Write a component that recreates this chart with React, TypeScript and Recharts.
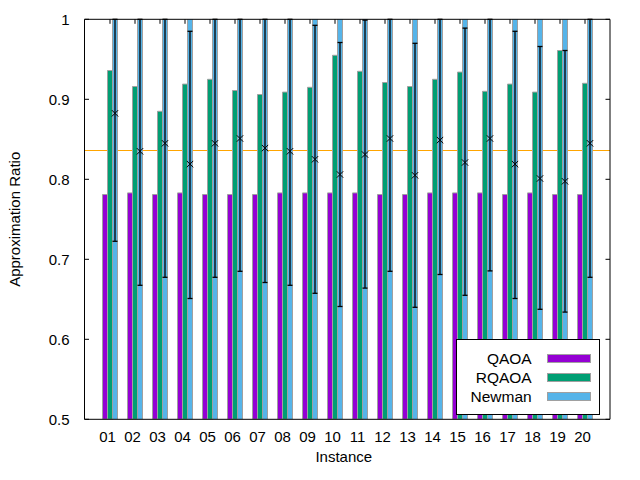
import React from 'react';
import {
  ComposedChart, Bar, XAxis, YAxis, ErrorBar, CartesianGrid, Legend, LabelList,
} from 'recharts';

const instances = ['01', '02', '03', '04', '05', '06', '07', '08', '09', '10',
  '11', '12', '13', '14', '15', '16', '17', '18', '19', '20'];

const seriesNames = ['QAOA', 'RQAOA', 'Newman'];

const qaoa = [0.781, 0.783, 0.781, 0.783, 0.781, 0.781, 0.781, 0.783, 0.783, 0.783,
  0.783, 0.781, 0.781, 0.783, 0.783, 0.783, 0.781, 0.783, 0.781, 0.781];
const rqaoa = [0.936, 0.916, 0.885, 0.919, 0.925, 0.911, 0.906, 0.909, 0.915, 0.955,
  0.935, 0.921, 0.916, 0.925, 0.934, 0.910, 0.919, 0.909, 0.961, 0.920];
const newman = [1, 1, 1, 1, 1, 1, 1, 1, 1, 1, 1, 1, 1, 1, 1, 1, 1, 1, 1, 1];

// mean and spread of the runs, drawn on the Newman bar
const runMean = [0.8825, 0.835, 0.845, 0.819, 0.845, 0.851, 0.839, 0.835, 0.825, 0.806,
  0.831, 0.851, 0.805, 0.849, 0.821, 0.851, 0.819, 0.801, 0.7975, 0.845];
const runLow = [0.7225, 0.6675, 0.6775, 0.651, 0.6775, 0.685, 0.671, 0.6675, 0.6575, 0.641,
  0.664, 0.685, 0.64, 0.681, 0.655, 0.6855, 0.651, 0.6375, 0.634, 0.6775];
const runHigh = [1, 1, 1, 0.985, 1, 1, 1, 1, 0.9925, 0.971,
  0.999, 1, 0.97, 1, 0.989, 1, 0.985, 0.966, 0.961, 1];

const threshold = 0.836;
const yTicks = [0.5, 0.6, 0.7, 0.8, 0.9, 1];

const data = instances.map((name, i) => ({
  name,
  qaoa: qaoa[i],
  rqaoa: rqaoa[i],
  mean: runMean[i],
  rest: newman[i] - runMean[i],
  err: [runMean[i] - runLow[i], runHigh[i] - runMean[i]],
}));

const FONT = '"Liberation Sans", Arial, sans-serif';
const BORDER = '#a0a0a0';
const PAD = { left: 13, right: 12.5 };

const EmptyTick = () => <g />;

const NewmanShape = (p: any) => {
  const { x, y, width, height, fill } = p;
  if (!height) return <g />;
  return (
    <g>
      <rect x={x} y={y} width={width} height={height} fill={fill} />
      <line x1={x} x2={x} y1={y} y2={y + height} stroke={BORDER} />
      <line x1={x + width} x2={x + width} y1={y} y2={y + height} stroke={BORDER} />
    </g>
  );
};

const Cross = (p: any) => {
  const vb = p.viewBox || p;
  const cx = vb.x + vb.width / 2;
  const cy = vb.y;
  const s = 3.2;
  return (
    <g stroke="#000" strokeWidth={1}>
      <line x1={cx - s} y1={cy - s} x2={cx + s} y2={cy + s} />
      <line x1={cx - s} y1={cy + s} x2={cx + s} y2={cy - s} />
    </g>
  );
};

const LegendBox = (props: any) => {
  const items = seriesNames
    .map((n) => (props.payload || []).find((e: any) => e.value === n))
    .filter(Boolean);
  return (
    <div style={{
      width: 144, height: 76, boxSizing: 'border-box', border: '1px solid #000',
      background: '#fff', position: 'relative', fontFamily: FONT, fontSize: 15.5, color: '#000',
    }}>
      {items.map((e: any, i: number) => (
        <div key={e.value} style={{ position: 'absolute', left: 0, top: 9 + 19 * i, height: 19, width: '100%' }}>
          <span style={{ position: 'absolute', right: 67, top: 0, lineHeight: '19px', whiteSpace: 'nowrap' }}>
            {e.value}
          </span>
          <span style={{
            position: 'absolute', left: 90, top: 5, width: 44, height: 9, boxSizing: 'border-box',
            background: e.color, border: `1px solid ${BORDER}`,
          }} />
        </div>
      ))}
    </div>
  );
};

const YLabel = ({ viewBox }: any) => (
  <text
    x={15} y={viewBox.y + viewBox.height / 2}
    transform={`rotate(-90, 15, ${viewBox.y + viewBox.height / 2})`}
    textAnchor="middle" dominantBaseline="central" fontSize={15} fill="#000" fontFamily={FONT}
  >
    Approximation Ratio
  </text>
);

const XLabel = ({ viewBox }: any) => (
  <text
    x={viewBox.x + viewBox.width / 2 - 3.5} y={viewBox.y + 42.5}
    textAnchor="middle" fontSize={15} fill="#000" fontFamily={FONT}
  >
    Instance
  </text>
);

export default function App() {
  return (
    <div style={{ position: 'absolute', left: 0, top: 0, width: 640, height: 480, background: '#fff' }}>
      <ComposedChart
        width={640}
        height={480}
        data={data}
        margin={{ top: 19.3, right: 30, left: 0, bottom: 0 }}
        barCategoryGap="20%"
        barGap={0}
        style={{ fontFamily: FONT }}
      >
        {/* threshold line lives in the grid layer so the bars cover it */}
        <CartesianGrid
          xAxisId="x" yAxisId="y" vertical={false} stroke="#ffa500" strokeWidth={1.2}
          horizontalValues={[threshold]}
        />
        <XAxis
          xAxisId="x" dataKey="name" padding={PAD} height={60.7}
          tickLine={false} tickSize={0} tickMargin={12.5}
          axisLine={{ stroke: '#000' }} tick={{ fill: '#000', fontSize: 15, dx: -2.5 }}
          interval={0} label={<XLabel />}
        />
        <XAxis
          xAxisId="xt" dataKey="name" orientation="top" mirror padding={PAD}
          tickSize={4.5} tickLine={{ stroke: '#000' }} axisLine={{ stroke: '#000' }}
          tick={<EmptyTick />} interval={0}
        />
        <YAxis
          yAxisId="y" domain={[0.5, 1]} ticks={yTicks} allowDataOverflow width={84.5}
          tickLine={false} tickSize={0} tickMargin={15}
          axisLine={{ stroke: '#000' }} tick={{ fill: '#000', fontSize: 15 }}
          tickFormatter={(v: number) => String(v)} label={<YLabel />}
        />
        <YAxis
          yAxisId="yl" domain={[0.5, 1]} ticks={yTicks} allowDataOverflow mirror
          tickSize={4.5} tickLine={{ stroke: '#000' }} axisLine={false} tick={<EmptyTick />}
        />
        <YAxis
          yAxisId="yr" orientation="right" domain={[0.5, 1]} ticks={yTicks} allowDataOverflow mirror
          tickSize={4.5} tickLine={{ stroke: '#000' }} axisLine={{ stroke: '#000' }} tick={<EmptyTick />}
        />
        <Bar
          xAxisId="x" yAxisId="y" dataKey="qaoa" name="QAOA" stackId="qaoa" fill="#9400d3"
          stroke={BORDER} strokeWidth={1} isAnimationActive={false}
        />
        <Bar
          xAxisId="x" yAxisId="y" dataKey="rqaoa" name="RQAOA" stackId="rqaoa" fill="#009e73"
          stroke={BORDER} strokeWidth={1} isAnimationActive={false}
        />
        <Bar
          xAxisId="x" yAxisId="y" dataKey="mean" name="Newman" stackId="newman" fill="#56b4e9"
          shape={<NewmanShape />} isAnimationActive={false}
        >
          <ErrorBar dataKey="err" direction="y" width={2.5} stroke="#000" strokeWidth={1.3} isAnimationActive={false} />
          <LabelList dataKey="mean" content={<Cross />} />
        </Bar>
        <Bar
          xAxisId="x" yAxisId="y" dataKey="rest" stackId="newman" fill="#56b4e9" legendType="none"
          shape={<NewmanShape />} isAnimationActive={false}
        />
        <Legend
          layout="vertical" align="center" verticalAlign="middle" content={<LegendBox />}
          wrapperStyle={{ left: 455.7, top: 339.3, width: 144, height: 76 }}
        />
      </ComposedChart>
    </div>
  );
}
